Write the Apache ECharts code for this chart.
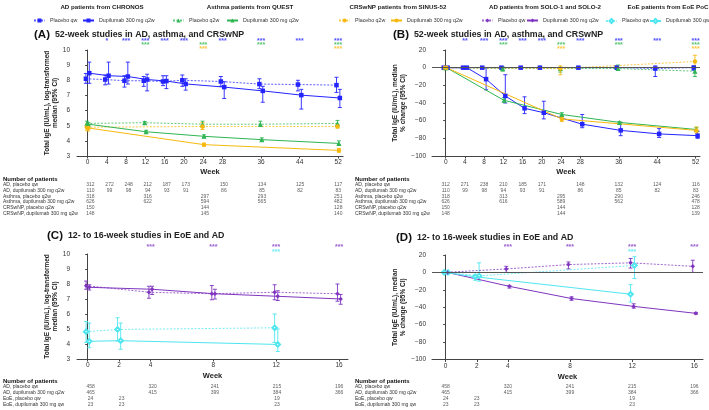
<!DOCTYPE html>
<html><head><meta charset="utf-8">
<script src="https://cdn.jsdelivr.net/npm/echarts@6/dist/echarts.min.js"></script>
<style>html,body{margin:0;padding:0;background:#fff}#c{width:709px;height:410px}</style>
</head><body><div id="c"></div>
<script>
// ---------- DATA ----------
const weeksAD52 = [0,4,8,12,16,20,28,36,44,52];
const weeksAsthma = [0,12,24,36,52];
const weeksCRS = [0,24,52];
const weeksSOLO = [0,4,8,12,16];
const weeksEoE = [0,2,12];
const ticks52 = [0,4,8,12,16,20,24,28,36,44,52];
const ticks16 = [0,2,4,8,12,16];

// Panel A (log-transformed median)
const aAdPbo = [8.10,8.05,7.97,7.97,7.92,8.00,7.92,7.75,7.72,7.68];
const aAdPboLo = [7.80,7.70,7.55,7.60,7.65,7.60,7.60,7.45,7.30,7.20];
const aAdPboHi = [8.45,8.35,8.30,8.25,8.30,8.35,8.25,8.10,8.00,8.20];
const aAdDup = [8.47,8.30,8.25,8.05,7.95,7.76,7.55,7.30,7.02,6.83];
const aAdDupLo = [7.80,7.75,7.75,7.30,7.45,7.35,6.80,6.55,6.10,6.20];
const aAdDupHi = [9.20,9.20,9.20,8.40,8.30,8.10,7.90,7.60,7.40,7.40];
const aAstPbo = [5.15,5.20,5.10,5.10,5.15];
const aAstPboLo = [5.00,5.10,4.90,4.95,4.95];
const aAstPboHi = [5.30,5.28,5.30,5.30,5.35];
const aAstDup = [5.10,4.60,4.30,4.08,3.83];
const aAstDupLo = [5.00,4.52,4.20,4.00,3.75];
const aAstDupHi = [5.20,4.70,4.40,4.20,4.00];
const aCrsPbo = [4.90,4.95,4.95];
const aCrsPboLo = [4.70,4.75,4.85];
const aCrsPboHi = [5.10,5.20,5.05];
const aCrsDup = [4.85,3.75,3.37];
const aCrsDupLo = [4.65,3.65,3.25];
const aCrsDupHi = [5.05,3.85,3.50];

// Panel B (% change)
const bAdPbo = [0,0,0,0,0,0,0,0,-1,0];
const bAdPboLo = [0,0,-1,-1,-1,-1,-1,-2,-10,-3];
const bAdPboHi = [0,0,1,1,1,1,1,2,2,2];
const bAdDup = [0,0,-13,-32,-46,-51,-64,-71,-75,-77];
const bAdDupLo = [0,0,-25,-40,-52,-58,-68,-77,-79,-80];
const bAdDupHi = [0,0,0,-8,-33,-38,-53,-62,-69,-72];
const bAstPbo = [0,-1,-1,-1,-4];
const bAstPboLo = [0,-4,-5,-3,-10];
const bAstPboHi = [0,1,0,3,0];
const bAstDup = [0,-37,-53,-62,-70];
const bAstDupLo = [0,-39,-55,-64,-72];
const bAstDupHi = [0,-34,-51,-61,-68];
const bCrsPbo = [0,-1,7];
const bCrsPboLo = [0,-8,0];
const bCrsPboHi = [0,2,14];
const bCrsDup = [0,-58,-71];
const bCrsDupLo = [0,-61,-74];
const bCrsDupHi = [0,-55,-67];

// Panel C (log-transformed median)
const cSoloPbo = [7.89,7.45,7.35,7.45,7.35];
const cSoloPboLo = [7.65,7.05,6.95,6.95,6.85];
const cSoloPboHi = [8.20,7.85,7.90,7.95,8.00];
const cSoloDup = [7.78,7.65,7.35,7.18,7.00];
const cSoloDupLo = [7.60,7.30,7.00,6.90,6.65];
const cSoloDupHi = [7.95,7.85,7.65,7.55,7.30];
const cEoePbo = [4.82,4.97,5.08];
const cEoePboLo = [4.10,4.20,4.10];
const cEoePboHi = [5.50,5.75,6.00];
const cEoeDup = [4.18,4.22,3.97];
const cEoeDupLo = [3.75,3.65,3.50];
const cEoeDupHi = [5.40,5.40,5.00];

// Panel D (% change)
const dSoloPbo = [0,4,9,11,7];
const dSoloPboLo = [0,0,4,5,0];
const dSoloPboHi = [0,7,12,16,14];
const dSoloDup = [0,-16,-30,-39,-47];
const dSoloDupLo = [0,-18,-32,-41,-48];
const dSoloDupHi = [0,-15,-28,-36,-46];
const dEoePbo = [0,-4,8];
const dEoePboLo = [0,-10,-7];
const dEoePboHi = [0,11,18];
const dEoeDup = [0,-5,-25];
const dEoeDupLo = [0,-9,-34];
const dEoeDupHi = [0,-3,-14];

// Significance markers
const sigA_AD = ['', '*', '***','***','***','***','***','***','***','***'];
const sigB_AD = ['', '**', '***','***','***','***','***','***','***','***'];
const sigAst = ['', '***','***','***','***'];
const sigCrs = ['', '***','***'];
const sigSolo = ['', '***','***','***','***'];
const sigEoe = ['', '', '***'];

// Number of patients tables
const tableRows52 = ['Number of patients','AD, placebo qw','AD, dupilumab 300 mg q2w','Asthma, placebo q2w','Asthma, dupilumab 300 mg q2w','CRSwNP, placebo q2w','CRSwNP, dupilumab 300 mg q2w'];
const tA_adPbo = [312,272,248,212,187,173,150,134,125,117];
const tA_adDup = [110,99,98,94,93,91,86,85,82,83];
const tA_astPbo = [318,316,297,293,251];
const tA_astDup = [626,622,594,565,482];
const tA_crsPbo = [150,144,128];
const tA_crsDup = [148,145,140];
const tB_adPbo = [312,271,238,210,185,171,148,132,124,116];
const tB_adDup = [110,99,98,94,93,91,86,85,82,83];
const tB_astPbo = [318,313,295,290,246];
const tB_astDup = [626,616,589,562,478];
const tB_crsPbo = [150,144,128];
const tB_crsDup = [148,144,139];
const tableRows16 = ['Number of patients','AD, placebo qw','AD, dupilumab 300 mg q2w','EoE, placebo qw','EoE, dupilumab 300 mg qw'];
const t16_soloPbo = [458,320,241,215,196];
const t16_soloDup = [465,415,399,384,366];
const t16_eoePbo = [24,23,19];
const t16_eoeDup = [23,23,23];

// ---------- STYLE ----------
const FONT = 'Liberation Sans, Arial, sans-serif';
const C_AD = '#2424ff', C_AST = '#2fb553', C_CRS = '#f7b90f', C_SOLO = '#8035c0', C_EOE = '#4fe6f0';
const N = {
  chPbo:'CHRONOS|Placebo qw', chDup:'CHRONOS|Dupilumab 300 mg q2w',
  quPbo:'QUEST|Placebo q2w', quDup:'QUEST|Dupilumab 300 mg q2w',
  siPbo:'SINUS|Placebo q2w', siDup:'SINUS|Dupilumab 300 mg q2w',
  soPbo:'SOLO|Placebo qw', soDup:'SOLO|Dupilumab 300 mg q2w',
  eoPbo:'EOE|Placebo qw', eoDup:'EOE|Dupilumab 300 qw'
};

const panels = [
  {left:77, right:366, top:50, height:106, xmin:-2.2, xmax:53, ymin:3, ymax:10, yint:1, ticks:ticks52, yoff:4,
   yname:'Total IgE (IU/mL), log-transformed\nmedian (95% CI)', ngap:13},
  {left:432, right:9, top:50, height:106, xmin:-2.85, xmax:52.9, ymin:-100, ymax:20, yint:20, ticks:ticks52, yoff:3,
   yname:'Total IgE (IU/mL), median\n% change (95% CI)', ngap:16},
  {left:77, right:361, top:254, height:105, xmin:-0.68, xmax:16.57, ymin:3, ymax:10, yint:1, ticks:ticks16, yoff:4,
   yname:'Total IgE (IU/mL), log-transformed\nmedian (95% CI)', ngap:13},
  {left:432, right:6, top:255, height:104.5, xmin:-0.88, xmax:16.56, ymin:-100, ymax:20, yint:20, ticks:ticks16, yoff:3,
   yname:'Total IgE (IU/mL), median\n% change (95% CI)', ngap:16}
];
const tables = [
  {p:0, top:176, height:40.5, rows:tableRows52},
  {p:1, top:176, height:40.5, rows:tableRows52},
  {p:2, top:378, height:30, rows:tableRows16},
  {p:3, top:378, height:30, rows:tableRows16}
];
const sigs = [
  {p:0, top:39, height:12, rows:3},
  {p:1, top:39, height:12, rows:3},
  {p:2, top:245, height:10, rows:2},
  {p:3, top:245, height:10, rows:2}
];

const grid = [], xAxis = [], yAxis = [];
panels.forEach((p, i) => {
  grid.push({left:p.left, right:p.right, top:p.top, height:p.height, containLabel:false});
  xAxis.push({gridIndex:i, type:'value', min:p.xmin, max:p.xmax,
    name:'Week', nameLocation:'middle', nameGap:(i<2?12:13),
    nameTextStyle:{fontFamily:FONT, fontSize:7.5, fontWeight:'bold', color:'#222'},
    axisLine:{show:true, onZero:false, lineStyle:{color:'#444', width:1}},
    axisTick:{show:true, length:2.5, customValues:p.ticks, lineStyle:{color:'#444'}},
    axisLabel:{customValues:p.ticks, fontFamily:FONT, fontSize:6.5, color:'#333', margin:3},
    splitLine:{show:false}});
  yAxis.push({gridIndex:i, type:'value', min:p.ymin, max:p.ymax, interval:p.yint, offset:p.yoff,
    name:p.yname, nameLocation:'middle', nameGap:p.ngap, nameRotate:90,
    nameTextStyle:{fontFamily:FONT, fontSize:6.5, fontWeight:'bold', color:'#222', lineHeight:8, align:'center'},
    axisLine:{show:true, lineStyle:{color:'#444', width:1}},
    axisTick:{show:true, length:2.5, lineStyle:{color:'#444'}},
    axisLabel:{fontFamily:FONT, fontSize:6.5, color:'#333', margin:3,
      formatter: v => (v < 0 ? '\u2212' + Math.abs(v) : String(v))},
    splitLine:{show:false}});
});
tables.forEach((t, k) => {
  const p = panels[t.p];
  grid.push({left:p.left, right:p.right, top:t.top, height:t.height});
  xAxis.push({gridIndex:4+k, type:'value', min:p.xmin, max:p.xmax, show:false});
  yAxis.push({gridIndex:4+k, type:'category', data:t.rows, inverse:true,
    axisLine:{show:false}, axisTick:{show:false},
    axisLabel:{show:true, interval:0, hideOverlap:false, align:'left', margin:(t.p%2===0 ? p.left : p.left-355),
      fontFamily:FONT, fontSize:5, color:'#333',
      formatter:(v, idx) => idx === 0 ? '{h|' + v + '}' : v,
      rich:{h:{fontFamily:FONT, fontSize:6, fontWeight:'bold', color:'#111'}}}});
});
sigs.forEach((s, k) => {
  const p = panels[s.p];
  grid.push({left:p.left, right:p.right, top:s.top, height:s.height});
  xAxis.push({gridIndex:8+k, type:'value', min:p.xmin, max:p.xmax, show:false});
  yAxis.push({gridIndex:8+k, type:'value', min:-0.5, max:s.rows-0.5, inverse:true, show:false});
});

const series = [];
function errRender(color) {
  return function (params, api) {
    const x = api.value(0);
    const a = api.coord([x, api.value(1)]);
    const b = api.coord([x, api.value(2)]);
    const w = 2;
    const st = {stroke:color, lineWidth:0.9};
    return {type:'group', children:[
      {type:'line', shape:{x1:a[0], y1:a[1], x2:b[0], y2:b[1]}, style:st},
      {type:'line', shape:{x1:a[0]-w, y1:a[1], x2:a[0]+w, y2:a[1]}, style:st},
      {type:'line', shape:{x1:b[0]-w, y1:b[1], x2:b[0]+w, y2:b[1]}, style:st}
    ]};
  };
}
function addLine(gi, name, weeks, mid, lo, hi, color, symbol, dashed, jitter, extra) {
  const s = {
    type:'line', name:name, xAxisIndex:gi, yAxisIndex:gi,
    data: weeks.map((w, i) => [w + jitter, mid[i]]),
    symbol:symbol, symbolSize:(symbol==='triangle'?5:4.5), showSymbol:true,
    lineStyle:{color:color, width:1, type:(dashed ? [2,1.5] : 'solid'), opacity:(dashed?0.75:1)},
    itemStyle:{color:color, borderWidth:0},
    z:(dashed?3:4), animation:false, silent:true
  };
  if (extra) Object.assign(s, extra);
  series.push(s);
  series.push({
    type:'custom', name:name + ' CI', xAxisIndex:gi, yAxisIndex:gi,
    data: weeks.map((w, i) => [w + jitter, lo[i], hi[i]]),
    encode:{x:0, y:[1,2]}, renderItem:errRender(color), z:2, animation:false, silent:true
  });
}
const zeroLine = {markLine:{silent:true, symbol:'none', label:{show:false},
  lineStyle:{color:'#555', width:1, type:'solid'}, data:[{yAxis:0}], animation:false}};

// Panel A
addLine(0, N.chPbo, weeksAD52, aAdPbo, aAdPboLo, aAdPboHi, C_AD, 'rect', true, -0.35);
addLine(0, N.chDup, weeksAD52, aAdDup, aAdDupLo, aAdDupHi, C_AD, 'rect', false, 0.35);
addLine(0, N.quPbo, weeksAsthma, aAstPbo, aAstPboLo, aAstPboHi, C_AST, 'triangle', true, -0.15);
addLine(0, N.quDup, weeksAsthma, aAstDup, aAstDupLo, aAstDupHi, C_AST, 'triangle', false, 0.15);
addLine(0, N.siPbo, weeksCRS, aCrsPbo, aCrsPboLo, aCrsPboHi, C_CRS, 'circle', true, -0.15);
addLine(0, N.siDup, weeksCRS, aCrsDup, aCrsDupLo, aCrsDupHi, C_CRS, 'circle', false, 0.15);
// Panel B
addLine(1, N.chPbo, weeksAD52, bAdPbo, bAdPboLo, bAdPboHi, C_AD, 'rect', true, -0.4, zeroLine);
addLine(1, N.chDup, weeksAD52, bAdDup, bAdDupLo, bAdDupHi, C_AD, 'rect', false, 0.4);
addLine(1, N.quPbo, weeksAsthma, bAstPbo, bAstPboLo, bAstPboHi, C_AST, 'triangle', true, -0.15);
addLine(1, N.quDup, weeksAsthma, bAstDup, bAstDupLo, bAstDupHi, C_AST, 'triangle', false, 0.15);
addLine(1, N.siPbo, weeksCRS, bCrsPbo, bCrsPboLo, bCrsPboHi, C_CRS, 'circle', true, -0.15);
addLine(1, N.siDup, weeksCRS, bCrsDup, bCrsDupLo, bCrsDupHi, C_CRS, 'circle', false, 0.15);
// Panel C
addLine(2, N.soPbo, weeksSOLO, cSoloPbo, cSoloPboLo, cSoloPboHi, C_SOLO, 'diamond', true, -0.1);
addLine(2, N.soDup, weeksSOLO, cSoloDup, cSoloDupLo, cSoloDupHi, C_SOLO, 'diamond', false, 0.1);
addLine(2, N.eoPbo, weeksEoE, cEoePbo, cEoePboLo, cEoePboHi, C_EOE, 'emptyDiamond', true, -0.1);
addLine(2, N.eoDup, weeksEoE, cEoeDup, cEoeDupLo, cEoeDupHi, C_EOE, 'emptyDiamond', false, 0.1);
// Panel D
addLine(3, N.soPbo, weeksSOLO, dSoloPbo, dSoloPboLo, dSoloPboHi, C_SOLO, 'diamond', true, -0.1, zeroLine);
addLine(3, N.soDup, weeksSOLO, dSoloDup, dSoloDupLo, dSoloDupHi, C_SOLO, 'diamond', false, 0.1);
addLine(3, N.eoPbo, weeksEoE, dEoePbo, dEoePboLo, dEoePboHi, C_EOE, 'emptyDiamond', true, 0.15);
addLine(3, N.eoDup, weeksEoE, dEoeDup, dEoeDupLo, dEoeDupHi, C_EOE, 'emptyDiamond', false, -0.1);

// Table text
function addTable(gi, rowName, weeks, vals) {
  series.push({type:'scatter', xAxisIndex:gi, yAxisIndex:gi, symbolSize:0, silent:true, animation:false,
    data: weeks.map((w, i) => [w, rowName, vals[i]]),
    label:{show:true, position:'inside', formatter:p => String(p.value[2]), fontFamily:FONT, fontSize:5, color:'#333'}});
}
[[4, [tA_adPbo,tA_adDup,tA_astPbo,tA_astDup,tA_crsPbo,tA_crsDup]],
 [5, [tB_adPbo,tB_adDup,tB_astPbo,tB_astDup,tB_crsPbo,tB_crsDup]]].forEach(([gi, arr]) => {
  const wk = [weeksAD52, weeksAD52, weeksAsthma, weeksAsthma, weeksCRS, weeksCRS];
  arr.forEach((v, r) => addTable(gi, tableRows52[r+1], wk[r], v));
});
[6, 7].forEach(gi => {
  addTable(gi, tableRows16[1], weeksSOLO, t16_soloPbo);
  addTable(gi, tableRows16[2], weeksSOLO, t16_soloDup);
  addTable(gi, tableRows16[3], weeksEoE, t16_eoePbo);
  addTable(gi, tableRows16[4], weeksEoE, t16_eoeDup);
});

// Significance stars
function addSig(gi, row, weeks, marks, color) {
  series.push({type:'scatter', xAxisIndex:gi, yAxisIndex:gi, symbolSize:0, silent:true, animation:false,
    data: weeks.map((w, i) => [w, row, marks[i]]).filter(d => d[2]),
    label:{show:true, position:'inside', formatter:p => p.value[2], fontFamily:FONT, fontSize:7, fontWeight:'bold', color:color}});
}
addSig(8, 0, weeksAD52, sigA_AD, C_AD);
addSig(8, 1, weeksAsthma, sigAst, C_AST);
addSig(8, 2, weeksCRS, sigCrs, C_CRS);
addSig(9, 0, weeksAD52, sigB_AD, C_AD);
addSig(9, 1, weeksAsthma, sigAst, C_AST);
addSig(9, 2, weeksCRS, sigCrs, C_CRS);
addSig(10, 0, weeksSOLO, sigSolo, C_SOLO);
addSig(10, 1, weeksEoE, sigEoe, C_EOE);
addSig(11, 0, weeksSOLO, sigSolo, C_SOLO);
addSig(11, 1, weeksEoE, sigEoe, C_EOE);

// Legends: one component per item so the row can be packed like the reference
const legendGroups = [
  {head:'AD patients from CHRONOS', cx:102, items:[[N.chPbo, 33], [N.chDup, 82]]},
  {head:'Asthma patients from QUEST', cx:250, items:[[N.quPbo, 172], [N.quDup, 226]]},
  {head:'CRSwNP patients from SINUS-52', cx:398, items:[[N.siPbo, 338], [N.siDup, 390]]},
  {head:'AD patients from SOLO-1 and SOLO-2', cx:545, items:[[N.soPbo, 481], [N.soDup, 526]]},
  {head:'EoE patients from EoE PoC', cx:668, items:[[N.eoPbo, 605], [N.eoDup, 649]]}
];
const legend = [];
legendGroups.forEach(g => g.items.forEach(([name, left]) => legend.push({
  data:[name], left:left, top:18, width:300, padding:0, itemWidth:11, itemHeight:5, itemGap:0, selectedMode:false,
  formatter: n => n.split('|')[1],
  textStyle:{fontFamily:FONT, fontSize:5.3, color:'#333'}
})));
const graphic = legendGroups.map(g => ({type:'text', x:g.cx, y:7, silent:true,
  style:{text:g.head, fontFamily:FONT, fontSize:6.2, fontWeight:'bold', fill:'#222', textAlign:'center', textVerticalAlign:'middle'}}));

const titleRich = {a:{fontFamily:FONT, fontSize:11.5, fontWeight:'bold', color:'#111'},
                   b:{fontFamily:FONT, fontSize:8.8, fontWeight:'bold', color:'#222'}};
const title = [
  {text:'{a|(A)} {b|52-week studies in AD, asthma, and CRSwNP}', left:34, top:26},
  {text:'{a|(B)} {b|52-week studies in AD, asthma, and CRSwNP}', left:393, top:26},
  {text:'{a|(C)} {b|12- to 16-week studies in EoE and AD}', left:47, top:227},
  {text:'{a|(D)} {b|12- to 16-week studies in EoE and AD}', left:396, top:229}
].map(t => Object.assign(t, {padding:0, textStyle:{rich:titleRich}}));

const chart = echarts.init(document.getElementById('c'), null, {renderer:'canvas', width:709, height:410});
chart.setOption({animation:false, backgroundColor:'#fff', title, legend, graphic, grid, xAxis, yAxis, series});
</script></body></html>
